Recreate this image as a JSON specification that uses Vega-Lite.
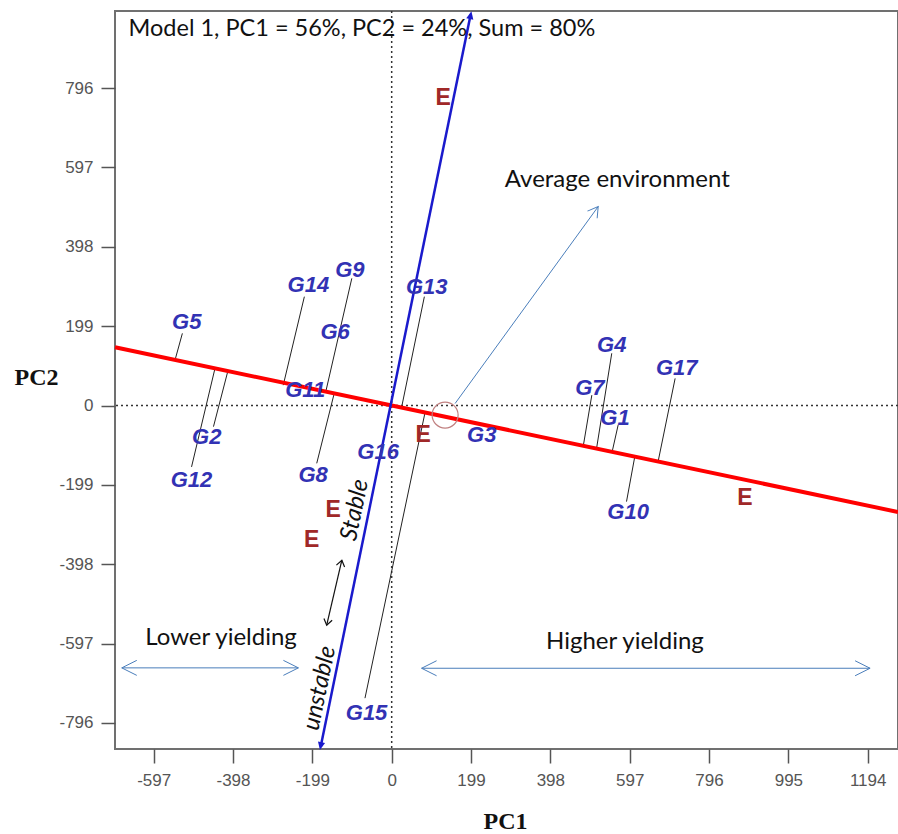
{
  "$schema": "https://vega.github.io/schema/vega-lite/v6.json",
  "width": 783,
  "height": 738,
  "autosize": {"type": "none"},
  "padding": {"left": 115, "top": 11, "right": 0, "bottom": 85},
  "background": "white",
  "config": {
    "view": {"stroke": "#707070", "strokeWidth": 2},
    "axis": {
      "domain": false,
      "grid": false,
      "tickColor": "#555555",
      "tickWidth": 1.5,
      "tickSize": 14,
      "labelFont": "Liberation Sans",
      "labelFontSize": 17,
      "labelColor": "#555555",
      "labelPadding": 4,
      "titleFont": "Liberation Serif",
      "titleFontSize": 24,
      "titleFontWeight": "bold",
      "titleColor": "#111111"
    },
    "axisX": {"titleX": 390, "titleY": 72, "titleAlign": "center", "titleBaseline": "middle", "labelPadding": 9},
    "axisY": {"titleAngle": 0, "titleX": -79, "titleY": 366, "titleAlign": "center", "titleBaseline": "middle", "labelPadding": 8}
  },
  "layer": [
    {
      "data": {"values": [{"PC1": 0, "PC2": 0}]},
      "mark": {"type": "rule", "color": "#333333", "strokeWidth": 1.5, "strokeDash": [2, 3]},
      "encoding": {
        "x": {"field": "PC1", "type": "quantitative", "title": "PC1", "scale": {"domain": [-694, 1270], "nice": false, "zero": false},
          "axis": {"values": [-597, -398, -199, 0, 199, 398, 597, 796, 995, 1194], "labelFont": "Liberation Sans", "labelFontSize": 17, "labelColor": "#555555", "labelPadding": 9, "labelExpr": "datum.value < 0 ? '-' + abs(datum.value) : '' + datum.value"}}
      }
    },
    {
      "data": {"values": [{"PC1": 0, "PC2": 0}]},
      "mark": {"type": "rule", "color": "#333333", "strokeWidth": 1.5, "strokeDash": [2, 3]},
      "encoding": {
        "y": {"field": "PC2", "type": "quantitative", "title": "PC2", "scale": {"domain": [-861.5, 989.5], "nice": false, "zero": false},
          "axis": {"values": [-796, -597, -398, -199, 0, 199, 398, 597, 796], "labelFont": "Liberation Sans", "labelFontSize": 17, "labelColor": "#555555", "labelExpr": "datum.value < 0 ? '-' + abs(datum.value) : '' + datum.value"}}
      }
    },
    {
      "data": {"values": [
        {"g": "G5", "x1": -525, "y1": 181, "x2": -544, "y2": 112},
        {"g": "G14", "x1": -219, "y1": 273, "x2": -272, "y2": 51},
        {"g": "G9", "x1": -100, "y1": 319, "x2": -165, "y2": 36},
        {"g": "G8", "x1": -188, "y1": -145, "x2": -144, "y2": 31},
        {"g": "G2", "x1": -447, "y1": -53, "x2": -411, "y2": 86},
        {"g": "G12", "x1": -502, "y1": -154, "x2": -443, "y2": 94},
        {"g": "G13", "x1": 82, "y1": 273, "x2": 25, "y2": -4},
        {"g": "G15", "x1": -67, "y1": -734, "x2": 84, "y2": -16},
        {"g": "G4", "x1": 552, "y1": 131, "x2": 514, "y2": -107},
        {"g": "G7", "x1": 502, "y1": 26, "x2": 481, "y2": -99},
        {"g": "G1", "x1": 568, "y1": -49, "x2": 553, "y2": -116},
        {"g": "G17", "x1": 711, "y1": 68, "x2": 669, "y2": -137},
        {"g": "G10", "x1": 589, "y1": -241, "x2": 610, "y2": -127}
      ]},
      "mark": {"type": "rule", "color": "#222222", "strokeWidth": 1},
      "encoding": {
        "x": {"field": "x1", "type": "quantitative", "title": "PC1"},
        "y": {"field": "y1", "type": "quantitative", "title": "PC2"},
        "x2": {"field": "x2"},
        "y2": {"field": "y2"}
      }
    },
    {
      "data": {"values": [{"x1": -694, "y1": 146, "x2": 1270, "y2": -267}]},
      "mark": {"type": "rule", "color": "#ff0000", "strokeWidth": 4},
      "encoding": {
        "x": {"field": "x1", "type": "quantitative", "title": "PC1"},
        "y": {"field": "y1", "type": "quantitative", "title": "PC2"},
        "x2": {"field": "x2"},
        "y2": {"field": "y2"}
      }
    },
    {
      "data": {"values": [{"x1": -178, "y1": -855, "x2": 198, "y2": 980}]},
      "mark": {"type": "rule", "color": "#1a1acc", "strokeWidth": 2.5},
      "encoding": {
        "x": {"field": "x1", "type": "quantitative", "title": "PC1"},
        "y": {"field": "y1", "type": "quantitative", "title": "PC2"},
        "x2": {"field": "x2"},
        "y2": {"field": "y2"}
      }
    },
    {
      "data": {"values": [{"PC1": 200, "PC2": 989}]},
      "mark": {"type": "point", "shape": "M0,0L-1,-0.45L-1,0.45Z", "size": 256, "filled": true, "opacity": 1, "color": "#1a1acc", "angle": -78.4},
      "encoding": {
        "x": {"field": "PC1", "type": "quantitative", "title": "PC1"},
        "y": {"field": "PC2", "type": "quantitative", "title": "PC2"}
      }
    },
    {
      "data": {"values": [{"PC1": -180, "PC2": -864}]},
      "mark": {"type": "point", "shape": "M0,0L-1,-0.45L-1,0.45Z", "size": 256, "filled": true, "opacity": 1, "color": "#1a1acc", "angle": 101.6},
      "encoding": {
        "x": {"field": "PC1", "type": "quantitative", "title": "PC1"},
        "y": {"field": "PC2", "type": "quantitative", "title": "PC2"}
      }
    },
    {
      "data": {"values": [{"PC1": 134, "PC2": -24}]},
      "mark": {"type": "point", "shape": "circle", "size": 676, "filled": false, "opacity": 1, "stroke": "#c08080", "strokeWidth": 1.2},
      "encoding": {
        "x": {"field": "PC1", "type": "quantitative", "title": "PC1"},
        "y": {"field": "PC2", "type": "quantitative", "title": "PC2"}
      }
    },
    {
      "data": {"values": [
        {"x1": 159, "y1": 5, "x2": 518, "y2": 499},
        {"x1": -677, "y1": -658, "x2": -234, "y2": -658},
        {"x1": 75, "y1": -659, "x2": 1200, "y2": -659}
      ]},
      "mark": {"type": "rule", "color": "#4a7ebb", "strokeWidth": 1},
      "encoding": {
        "x": {"field": "x1", "type": "quantitative", "title": "PC1"},
        "y": {"field": "y1", "type": "quantitative", "title": "PC2"},
        "x2": {"field": "x2"},
        "y2": {"field": "y2"}
      }
    },
    {
      "data": {"values": [{"PC1": -234, "PC2": -658}, {"PC1": 1200, "PC2": -659}]},
      "mark": {"type": "point", "shape": "M-1,-0.5L0,0L-1,0.5", "size": 900, "filled": false, "opacity": 1, "stroke": "#4a7ebb", "strokeWidth": 1, "angle": 0},
      "encoding": {
        "x": {"field": "PC1", "type": "quantitative", "title": "PC1"},
        "y": {"field": "PC2", "type": "quantitative", "title": "PC2"}
      }
    },
    {
      "data": {"values": [{"PC1": -677, "PC2": -658}, {"PC1": 75, "PC2": -659}]},
      "mark": {"type": "point", "shape": "M-1,-0.5L0,0L-1,0.5", "size": 900, "filled": false, "opacity": 1, "stroke": "#4a7ebb", "strokeWidth": 1, "angle": 180},
      "encoding": {
        "x": {"field": "PC1", "type": "quantitative", "title": "PC1"},
        "y": {"field": "PC2", "type": "quantitative", "title": "PC2"}
      }
    },
    {
      "data": {"values": [{"PC1": 518, "PC2": 499}]},
      "mark": {"type": "point", "shape": "M-1,-0.6L0,0L-1,0.6", "size": 400, "filled": false, "opacity": 1, "stroke": "#4a7ebb", "strokeWidth": 1, "angle": -53.9},
      "encoding": {
        "x": {"field": "PC1", "type": "quantitative", "title": "PC1"},
        "y": {"field": "PC2", "type": "quantitative", "title": "PC2"}
      }
    },
    {
      "data": {"values": [{"x1": -125, "y1": -388, "x2": -163, "y2": -551}]},
      "mark": {"type": "rule", "color": "#111111", "strokeWidth": 1.2},
      "encoding": {
        "x": {"field": "x1", "type": "quantitative", "title": "PC1"},
        "y": {"field": "y1", "type": "quantitative", "title": "PC2"},
        "x2": {"field": "x2"},
        "y2": {"field": "y2"}
      }
    },
    {
      "data": {"values": [{"PC1": -125, "PC2": -388}]},
      "mark": {"type": "point", "shape": "M-1,-0.7L0,0L-1,0.7", "size": 144, "filled": false, "opacity": 1, "stroke": "#111111", "strokeWidth": 1.2, "angle": -77},
      "encoding": {
        "x": {"field": "PC1", "type": "quantitative", "title": "PC1"},
        "y": {"field": "PC2", "type": "quantitative", "title": "PC2"}
      }
    },
    {
      "data": {"values": [{"PC1": -163, "PC2": -551}]},
      "mark": {"type": "point", "shape": "M-1,-0.7L0,0L-1,0.7", "size": 144, "filled": false, "opacity": 1, "stroke": "#111111", "strokeWidth": 1.2, "angle": 103},
      "encoding": {
        "x": {"field": "PC1", "type": "quantitative", "title": "PC1"},
        "y": {"field": "PC2", "type": "quantitative", "title": "PC2"}
      }
    },
    {
      "data": {"values": [
        {"g": "G1", "PC1": 560, "PC2": -32},
        {"g": "G2", "PC1": -464, "PC2": -78},
        {"g": "G3", "PC1": 226, "PC2": -74},
        {"g": "G4", "PC1": 552, "PC2": 152},
        {"g": "G5", "PC1": -514, "PC2": 210},
        {"g": "G6", "PC1": -142, "PC2": 185},
        {"g": "G7", "PC1": 497, "PC2": 43},
        {"g": "G8", "PC1": -197, "PC2": -174},
        {"g": "G9", "PC1": -105, "PC2": 340},
        {"g": "G10", "PC1": 593, "PC2": -266},
        {"g": "G11", "PC1": -217, "PC2": 39},
        {"g": "G12", "PC1": -502, "PC2": -187},
        {"g": "G13", "PC1": 88, "PC2": 298},
        {"g": "G14", "PC1": -209, "PC2": 302},
        {"g": "G15", "PC1": -63, "PC2": -772},
        {"g": "G16", "PC1": -34, "PC2": -116},
        {"g": "G17", "PC1": 715, "PC2": 93}
      ]},
      "mark": {"type": "text", "font": "Liberation Sans", "fontSize": 22, "fontWeight": "bold", "fontStyle": "italic", "color": "#3232b4", "align": "center", "baseline": "middle"},
      "encoding": {
        "x": {"field": "PC1", "type": "quantitative", "title": "PC1"},
        "y": {"field": "PC2", "type": "quantitative", "title": "PC2"},
        "text": {"field": "g"}
      }
    },
    {
      "data": {"values": [
        {"e": "E", "PC1": 129, "PC2": 771},
        {"e": "E", "PC1": 886, "PC2": -233},
        {"e": "E", "PC1": 79, "PC2": -74},
        {"e": "E", "PC1": -147, "PC2": -262},
        {"e": "E", "PC1": -201, "PC2": -337}
      ]},
      "mark": {"type": "text", "font": "Liberation Sans", "fontSize": 23, "fontWeight": "bold", "color": "#a02828", "align": "center", "baseline": "middle"},
      "encoding": {
        "x": {"field": "PC1", "type": "quantitative", "title": "PC1"},
        "y": {"field": "PC2", "type": "quantitative", "title": "PC2"},
        "text": {"field": "e"}
      }
    },
    {
      "data": {"values": [{"t": "Model 1, PC1 = 56%, PC2 = 24%, Sum = 80%", "PC1": -660, "PC2": 945}]},
      "mark": {"type": "text", "font": "Lato", "fontSize": 23.5, "color": "#111111", "align": "left", "baseline": "middle"},
      "encoding": {
        "x": {"field": "PC1", "type": "quantitative", "title": "PC1"},
        "y": {"field": "PC2", "type": "quantitative", "title": "PC2"},
        "text": {"field": "t"}
      }
    },
    {
      "data": {"values": [
        {"t": "Average environment", "PC1": 566, "PC2": 566},
        {"t": "Lower yielding", "PC1": -428, "PC2": -583},
        {"t": "Higher yielding", "PC1": 585, "PC2": -593}
      ]},
      "mark": {"type": "text", "font": "Lato", "fontSize": 24, "color": "#111111", "align": "center", "baseline": "middle"},
      "encoding": {
        "x": {"field": "PC1", "type": "quantitative", "title": "PC1"},
        "y": {"field": "PC2", "type": "quantitative", "title": "PC2"},
        "text": {"field": "t"}
      }
    },
    {
      "data": {"values": [
        {"t": "Stable", "PC1": -92, "PC2": -262},
        {"t": "unstable", "PC1": -180, "PC2": -709}
      ]},
      "mark": {"type": "text", "font": "Lato", "fontSize": 24, "fontStyle": "italic", "color": "#111111", "align": "center", "baseline": "middle", "angle": -78.5},
      "encoding": {
        "x": {"field": "PC1", "type": "quantitative", "title": "PC1"},
        "y": {"field": "PC2", "type": "quantitative", "title": "PC2"},
        "text": {"field": "t"}
      }
    }
  ]
}
